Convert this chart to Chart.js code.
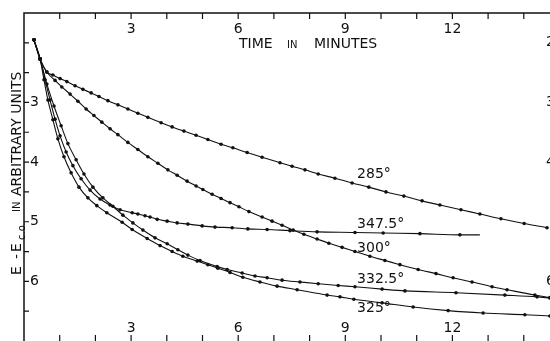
<!DOCTYPE html>
<html>
<head>
<meta charset="utf-8">
<script src="https://cdn.jsdelivr.net/npm/chart.js@4.4.1/dist/chart.umd.min.js"></script>
<style>
  html, body { margin: 0; padding: 0; background: #fff; overflow: hidden; }
  canvas { display: block; }
</style>
</head>
<body>
<canvas id="chart" width="575" height="355"></canvas>
<script>
// time (minutes) and E - Eco (arbitrary units, increasing downward)
const time285 = [0.28, 0.45, 0.64, 0.81, 1.01, 1.20, 1.43, 1.65, 1.88, 2.10, 2.35, 2.63, 2.91, 3.19, 3.47, 3.84, 4.15, 4.48, 4.82, 5.15, 5.52, 5.85, 6.25, 6.67, 7.17, 7.51, 7.87, 8.24, 8.71, 9.19, 9.66, 10.14, 10.64, 11.15, 11.65, 12.24, 12.77, 13.36, 14.01, 14.65];
const pot285  = [1.95, 2.27, 2.49, 2.54, 2.60, 2.65, 2.72, 2.78, 2.84, 2.90, 2.97, 3.04, 3.11, 3.18, 3.25, 3.34, 3.41, 3.48, 3.55, 3.62, 3.70, 3.76, 3.84, 3.92, 4.01, 4.07, 4.13, 4.20, 4.27, 4.35, 4.42, 4.50, 4.57, 4.65, 4.72, 4.80, 4.87, 4.95, 5.03, 5.10];

const time300 = [0.28, 0.45, 0.64, 0.87, 1.06, 1.29, 1.51, 1.74, 1.96, 2.18, 2.41, 2.63, 2.91, 3.19, 3.47, 3.75, 4.03, 4.29, 4.57, 4.82, 5.01, 5.27, 5.52, 5.77, 6.02, 6.30, 6.67, 6.95, 7.23, 7.54, 7.84, 8.21, 8.54, 8.91, 9.27, 9.69, 10.11, 10.53, 11.04, 11.54, 12.02, 12.55, 13.11, 13.53, 14.31, 14.73];
const pot300  = [1.95, 2.27, 2.49, 2.63, 2.74, 2.86, 2.98, 3.11, 3.22, 3.33, 3.44, 3.54, 3.67, 3.79, 3.91, 4.02, 4.13, 4.22, 4.32, 4.40, 4.46, 4.54, 4.61, 4.68, 4.75, 4.83, 4.92, 4.99, 5.06, 5.14, 5.21, 5.29, 5.36, 5.43, 5.50, 5.58, 5.65, 5.72, 5.80, 5.87, 5.94, 6.01, 6.09, 6.14, 6.23, 6.27];

const time3475 = [0.28, 0.45, 0.59, 0.73, 0.87, 1.01, 1.18, 1.37, 1.60, 1.85, 2.13, 2.41, 2.69, 3.03, 3.19, 3.39, 3.53, 3.73, 4.01, 4.29, 4.59, 4.99, 5.35, 5.83, 6.27, 6.81, 7.45, 8.21, 9.27, 10.06, 11.09, 12.21, 12.77];
const pot3475  = [1.95, 2.27, 2.62, 2.96, 3.28, 3.56, 3.83, 4.06, 4.28, 4.47, 4.62, 4.72, 4.80, 4.85, 4.87, 4.90, 4.92, 4.96, 4.99, 5.02, 5.04, 5.07, 5.09, 5.10, 5.12, 5.13, 5.15, 5.17, 5.18, 5.19, 5.20, 5.22, 5.22];

const time3325 = [0.28, 0.45, 0.64, 0.84, 1.04, 1.23, 1.46, 1.68, 1.93, 2.21, 2.49, 2.77, 3.05, 3.33, 3.67, 4.01, 4.31, 4.59, 4.93, 5.41, 5.69, 6.11, 6.47, 6.81, 7.23, 7.73, 8.24, 8.80, 9.27, 10.03, 10.67, 12.10, 13.47, 14.37, 14.73];
const pot3325  = [1.95, 2.27, 2.69, 3.06, 3.39, 3.69, 3.96, 4.20, 4.42, 4.60, 4.74, 4.89, 5.02, 5.14, 5.27, 5.37, 5.47, 5.56, 5.65, 5.75, 5.80, 5.86, 5.91, 5.94, 5.98, 6.01, 6.04, 6.07, 6.09, 6.13, 6.16, 6.19, 6.23, 6.26, 6.28];

const time325 = [0.28, 0.45, 0.56, 0.67, 0.81, 0.95, 1.12, 1.32, 1.54, 1.79, 2.04, 2.32, 2.75, 3.03, 3.45, 3.81, 4.15, 4.45, 4.85, 5.15, 5.43, 5.77, 6.13, 6.61, 7.09, 7.65, 8.49, 8.85, 9.24, 10.03, 10.90, 11.88, 12.86, 14.03, 14.73];
const pot325  = [1.95, 2.27, 2.62, 2.96, 3.29, 3.61, 3.91, 4.18, 4.42, 4.60, 4.73, 4.85, 5.01, 5.13, 5.28, 5.40, 5.50, 5.58, 5.66, 5.72, 5.78, 5.85, 5.93, 6.01, 6.08, 6.14, 6.23, 6.26, 6.30, 6.36, 6.43, 6.49, 6.53, 6.56, 6.58];

const curveNames = ["285°", "347.5°", "300°", "332.5°", "325°"];
const curveLabelTime = [9.33, 9.33, 9.33, 9.33, 9.33];
const curveLabelPot = [4.21, 5.04, 5.45, 5.96, 6.46];

const xTickLabels = [3, 6, 9, 12];
const yTickLabels = [3, 4, 5, 6];
const yRightLabels = [2, 3, 4, 6];

const ink = "#111";
const font = '"DejaVu Sans", sans-serif';

function pairs(xs, ys) {
  return xs.map((x, i) => ({ x: x, y: ys[i] }));
}

function series(label, xs, ys, hideLast) {
  return {
    label: label,
    data: pairs(xs, ys),
    borderColor: ink,
    borderWidth: 1.1,
    backgroundColor: ink,
    pointBackgroundColor: ink,
    pointBorderWidth: 0,
    pointRadius: ctx => (hideLast && ctx.dataIndex === xs.length - 1) ? 0 : 1.8,
    cubicInterpolationMode: "monotone",
    fill: false
  };
}

const framePlugin = {
  id: "frame",
  beforeDatasetsDraw(chart) {
    const { ctx, chartArea: a } = chart;
    const xs = chart.scales.x, ys = chart.scales.y;
    ctx.save();
    ctx.strokeStyle = ink;
    ctx.lineWidth = 1.5;
    ctx.beginPath();
    ctx.moveTo(a.left, a.bottom);
    ctx.lineTo(a.left, a.top);
    ctx.lineTo(chart.width, a.top);
    ctx.stroke();

    ctx.lineWidth = 1.2;
    ctx.beginPath();
    for (let m = 1; m <= 15; m++) {
      const px = xs.getPixelForValue(m);
      ctx.moveTo(px, a.top); ctx.lineTo(px, a.top + 6);
      ctx.moveTo(px, a.bottom); ctx.lineTo(px, a.bottom - 6);
    }
    for (let v = 2; v <= 6.5; v += 0.5) {
      const py = ys.getPixelForValue(v);
      ctx.moveTo(a.left, py); ctx.lineTo(a.left + 5, py);
    }
    ctx.stroke();
    ctx.restore();
  },
  afterDatasetsDraw(chart) {
    const { ctx, chartArea: a } = chart;
    const xs = chart.scales.x, ys = chart.scales.y;
    ctx.save();
    ctx.fillStyle = ink;
    ctx.font = "14px " + font;
    ctx.textBaseline = "middle";

    ctx.textAlign = "center";
    xTickLabels.forEach(v => {
      const px = xs.getPixelForValue(v);
      ctx.fillText(String(v), px, a.top + 16);
      ctx.fillText(String(v), px, a.bottom - 13);
    });

    ctx.textAlign = "left";
    yTickLabels.forEach(v => {
      ctx.fillText(String(v), a.left + 6, ys.getPixelForValue(v));
    });
    yRightLabels.forEach(v => {
      ctx.fillText(String(v), 546, ys.getPixelForValue(v));
    });

    // axis title on top
    ctx.fillText("TIME", 239, 44);
    ctx.font = "10px " + font;
    ctx.fillText("IN", 287, 45);
    ctx.font = "14px " + font;
    ctx.fillText("MINUTES", 314, 44);

    // curve temperatures
    curveNames.forEach((name, i) => {
      ctx.fillText(name, xs.getPixelForValue(curveLabelTime[i]), ys.getPixelForValue(curveLabelPot[i]));
    });

    // vertical axis title
    ctx.translate(17, 276);
    ctx.rotate(-Math.PI / 2);
    ctx.fillText("E", 1, 0);
    ctx.fillText("-", 17, 0);
    ctx.fillText("E", 24, 0);
    ctx.font = "10px " + font;
    ctx.fillText("c.o.", 36, 5);
    ctx.fillText("IN", 64, 0);
    ctx.font = "14px " + font;
    ctx.fillText("ARBITRARY UNITS", 80, 0);
    ctx.restore();
  }
};

new Chart(document.getElementById("chart"), {
  type: "line",
  data: {
    datasets: [
      series("285°", time285, pot285, false),
      series("300°", time300, pot300, false),
      series("347.5°", time3475, pot3475, true),
      series("332.5°", time3325, pot3325, false),
      series("325°", time325, pot325, false)
    ]
  },
  options: {
    responsive: false,
    animation: false,
    devicePixelRatio: 1,
    layout: { padding: { left: 24, top: 13, right: 15.5, bottom: 14 } },
    plugins: { legend: { display: false }, tooltip: { enabled: false } },
    scales: {
      x: { type: "linear", min: 0, max: 15, display: false },
      y: { type: "linear", min: 1.5, max: 7, reverse: true, display: false }
    }
  },
  plugins: [framePlugin]
});
</script>
</body>
</html>
